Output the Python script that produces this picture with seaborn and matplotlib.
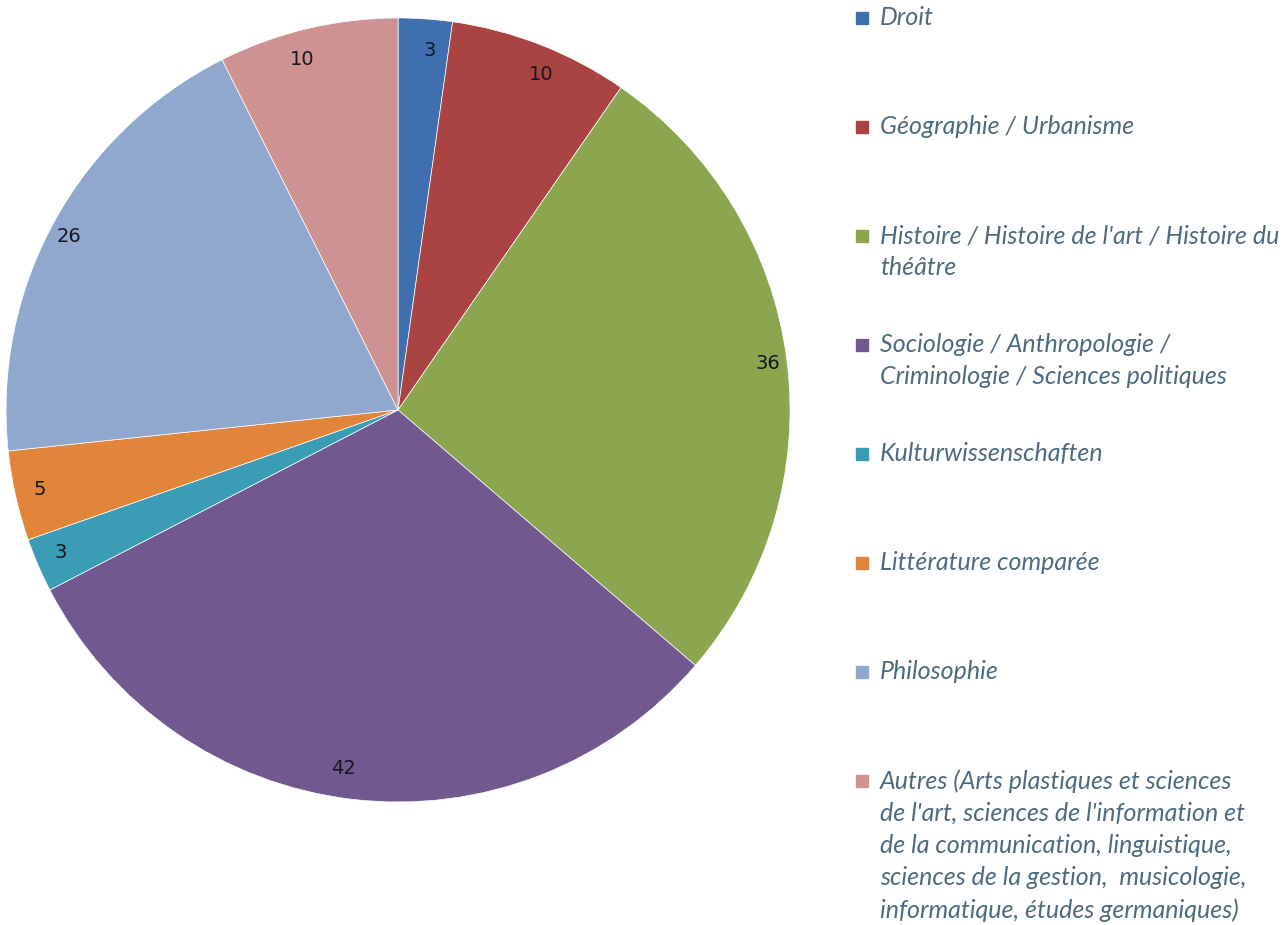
import matplotlib
matplotlib.use("Agg")
import matplotlib.pyplot as plt
import seaborn as sns

# Répartition par discipline
categories = [
    "Droit",
    "Géographie / Urbanisme",
    "Histoire / Histoire de l'art / Histoire du\nthéâtre",
    "Sociologie / Anthropologie /\nCriminologie / Sciences politiques",
    "Kulturwissenschaften",
    "Littérature comparée",
    "Philosophie",
    "Autres (Arts plastiques et sciences\nde l'art, sciences de l'information et\n"
    "de la communication, linguistique,\nsciences de la gestion,  musicologie,\n"
    "informatique, études germaniques)",
]
counts = [3, 10, 36, 42, 3, 5, 26, 10]
colors = ["#3f6fae", "#a94442", "#8ba64f", "#71588f",
          "#3a9db5", "#e0853a", "#91a8ce", "#cf9292"]

sns.set_theme(style="white")
plt.rcParams['font.family'] = ['DejaVu Sans']

fig = plt.figure(figsize=(12.88, 9.25), dpi=100)
ax = fig.add_axes([0.0047, 0.133, 0.6087, 0.8476])

palette = sns.color_palette(colors)
wedges, texts = ax.pie(
    counts,
    colors=palette,
    labels=[str(c) for c in counts],
    labeldistance=0.92,
    startangle=90,
    counterclock=False,
    wedgeprops=dict(edgecolor="white", linewidth=0.5),
    textprops=dict(fontsize=14, color="#161622"),
)
ax.set_xlim(-1, 1)
ax.set_ylim(-1, 1)
ax.set_aspect("equal")
ax.axis("off")

# légende à droite
top = 1 - 18 / 925
step = 109 / 925
for i, (lab, col) in enumerate(zip(categories, palette)):
    y = top - i * step
    fig.patches.append(plt.Rectangle((856 / 1288, y - 6 / 925), 12 / 1288, 12 / 925,
                                     transform=fig.transFigure, color=col))
    fig.text(880 / 1288, y + 12 / 925, lab, ha="left", va="top",
             fontsize=18, fontstyle="italic", family="Lato",
             color="#4d6b80", linespacing=1.48)

fig.savefig("out.png", dpi=100)
